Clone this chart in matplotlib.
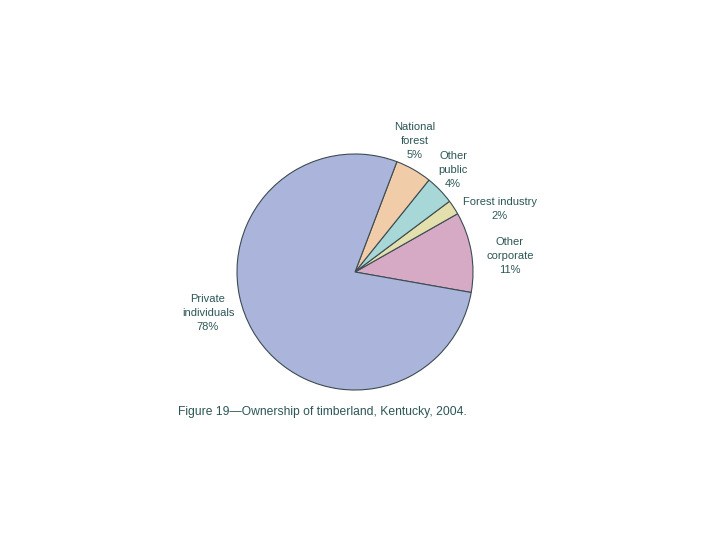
import matplotlib
matplotlib.use("Agg")
import matplotlib.pyplot as plt

categories = ["Other corporate", "Forest industry", "Other public", "National forest", "Private individuals"]
label_lines = ["Other\ncorporate", "Forest industry", "Other\npublic", "National\nforest", "Private\nindividuals"]
values = [11, 2, 4, 5, 78]
colors = ["#d6a9c5", "#e3e0ae", "#a7d7d6", "#f1cca9", "#abb5db"]
caption = "Figure 19\u2014Ownership of timberland, Kentucky, 2004."

# label anchor positions in pixel coords (x, y from top)
label_pos = [(510, 256), (500, 209), (453, 170), (415, 141), (208, 313)]

W, H = 720, 540
fig = plt.figure(figsize=(7.2, 5.4), dpi=100)
ax = fig.add_axes([0, 0, 1, 1])
plt.rcParams['font.family'] = ['Liberation Sans', 'DejaVu Sans']
txt_color = "#2d5656"

ax.pie(values, colors=colors, startangle=-10, counterclock=True,
       center=(355, H - 272), radius=118, frame=True,
       wedgeprops=dict(edgecolor="#3c4c52", linewidth=0.8))
ax.set_xlim(0, W)
ax.set_ylim(0, H)
ax.set_aspect('equal')
ax.axis('off')

for lab, v, (x, y) in zip(label_lines, values, label_pos):
    ax.text(x, H - y, f"{lab}\n{v}%", ha='center', va='center', fontsize=8,
            color=txt_color, linespacing=1.45, family=['Liberation Sans', 'DejaVu Sans'])

ax.text(178, H - 412, caption, ha='left', va='center', fontsize=8.7,
        color=txt_color, family=['Liberation Sans', 'DejaVu Sans'])

fig.savefig("out.png", dpi=100)
